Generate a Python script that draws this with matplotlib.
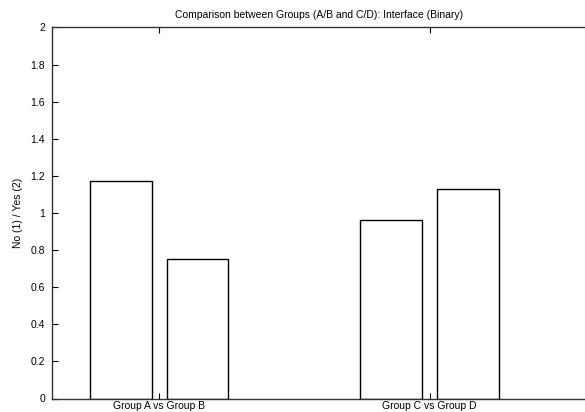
import numpy as np
import matplotlib
matplotlib.use('Agg')
import matplotlib.pyplot as plt

plt.rcParams['font.family'] = ['Liberation Sans', 'DejaVu Sans']

# values
groups = ['Group A vs Group B', 'Group C vs Group D']
first_vals = [1.17, 0.96]    # group A, group C
second_vals = [0.75, 1.13]   # group B, group D
yticks = [0, 0.2, 0.4, 0.6, 0.8, 1, 1.2, 1.4, 1.6, 1.8, 2]

x = np.arange(1, len(groups) + 1)
w = 0.228
off = 0.142

fig = plt.figure(figsize=(5.85, 4.12), dpi=100)
ax = fig.add_axes([52 / 585, 13.5 / 412, 533.8 / 585, 371 / 412])

ax.bar(x - off, first_vals, w, color='white', edgecolor='black', linewidth=1.0)
ax.bar(x + off, second_vals, w, color='white', edgecolor='black', linewidth=1.0)

ax.set_xlim(0.604, 2.577)
ax.set_ylim(0, 2)
ax.set_xticks(x)
ax.set_xticklabels(groups, fontsize=7.5)
ax.set_yticks(yticks)
ax.set_yticklabels(['%g' % v for v in yticks], fontsize=7.5)
# right side is cropped in the original, so its ticks are barely visible
ax.tick_params(direction='in', length=4.5, width=0.8, top=True, right=False, color='black')
ax.tick_params(axis='x', pad=2)
ax.tick_params(axis='y', pad=5)
for s in ax.spines.values():
    s.set_linewidth(1.0)
    s.set_color('#333333')
ax.spines['right'].set_color('#dddddd')

ax.set_ylabel('No (1) / Yes (2)', fontsize=7.5, labelpad=5)
ax.set_title('Comparison between Groups (A/B and C/D): Interface (Binary)', fontsize=7.5, pad=7)

fig.savefig('out.png', dpi=100)
